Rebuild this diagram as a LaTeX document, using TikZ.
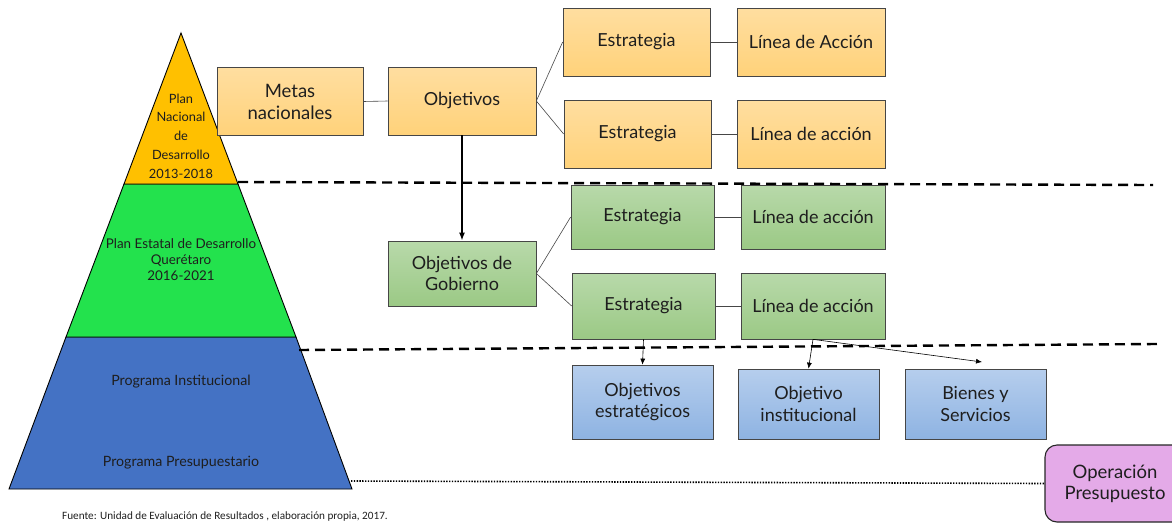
\documentclass[tikz,border=0pt]{standalone}
\usepackage{fontspec}
\setmainfont{Lato}
\newfontfamily\footfont{Carlito}
\usetikzlibrary{arrows.meta,calc}
\definecolor{pyor}{RGB}{255,192,0}
\definecolor{pygr}{RGB}{35,226,77}
\definecolor{pybl}{RGB}{68,114,196}
\definecolor{bord}{RGB}{70,70,70}
\definecolor{txt}{RGB}{30,30,30}
\tikzset{
  box/.style={rectangle, draw=bord, line width=0.7pt, align=center, text=txt,
    font=\fontsize{18}{21.5}\selectfont, inner sep=0pt},
  obox/.style={box, top color={rgb,255:red,255;green,222;blue,160}, bottom color={rgb,255:red,255;green,210;blue,122}},
  gbox/.style={box, top color={rgb,255:red,184;green,217;blue,170}, bottom color={rgb,255:red,155;green,201;blue,133}},
  bbox/.style={box, top color={rgb,255:red,182;green,206;blue,237}, bottom color={rgb,255:red,142;green,179;blue,226}},
  conn/.style={draw=bord, line width=0.6pt},
  thinarrow/.style={draw=black, line width=0.6pt, -{Latex[length=6pt,width=5pt]}},
  bigarrow/.style={draw=black, line width=1.6pt, -{Latex[length=8pt,width=6pt]}},
  sep/.style={draw=black, line width=2.4pt, dash pattern=on 10pt off 6pt},
  dots/.style={draw=black, line width=1.6pt, dash pattern=on 1.4pt off 1.4pt},
  pytext/.style={align=center, text=txt, font=\fontsize{12.8}{18.7}\selectfont, inner sep=0pt},
}
\begin{document}
\begin{tikzpicture}[x=1pt,y=-1pt]
\useasboundingbox (0,0) rectangle (1172,522);
\begin{scope}
\clip (0,0) rectangle (1172,522);
% pyramid
\draw[fill=pybl, line width=0.9pt] (66,337) -- (296,337) -- (352,489) -- (9,489) -- cycle;
\draw[fill=pygr, line width=0.9pt] (124,184) -- (238,184) -- (296,337) -- (66,337) -- cycle;
\draw[fill=pyor, line width=0.9pt] (181,33) -- (238,184) -- (124,184) -- cycle;
\node[pytext] (pnd) at (181,136) {Plan\\Nacional\\de\\Desarrollo\\2013-2018};
\node[pytext, font=\fontsize{13.4}{16}\selectfont] (ped) at (181,259.5) {Plan Estatal de Desarrollo\\Querétaro\\2016-2021};
\node[pytext, font=\fontsize{14.2}{17}\selectfont] (pin) at (181,382) {Programa Institucional};
\node[pytext, font=\fontsize{14.2}{17}\selectfont] (ppr) at (181,463) {Programa Presupuestario};
% separators
\coordinate (s1a) at (238,182); \coordinate (s1b) at (1153,185);
\coordinate (s2a) at (299,350); \coordinate (s2b) at (1157,344);
\draw[sep] (s1a) -- (s1b);
\draw[sep] (s2a) -- (s2b);
% boxes
\node[obox, minimum width=146pt, minimum height=68pt, font=\fontsize{18.5}{22}\selectfont] (metas) at (290,101.5) {Metas\\nacionales};
\node[obox, minimum width=148pt, minimum height=68pt] (obj) at (462,101) {Objetivos};
\node[obox, minimum width=147pt, minimum height=68pt] (e1) at (636.5,42) {Estrategia};
\node[obox, minimum width=148pt, minimum height=68pt] (l1) at (811,42) {Línea de Acción};
\node[obox, minimum width=147pt, minimum height=68pt] (e2) at (637.5,134) {Estrategia};
\node[obox, minimum width=148pt, minimum height=68pt] (l2) at (811,134) {Línea de acción};
\node[gbox, minimum width=148pt, minimum height=65pt] (og) at (462,273.5) {Objetivos de\\Gobierno};
\node[gbox, minimum width=143pt, minimum height=64pt] (ge1) at (642.5,217) {Estrategia};
\node[gbox, minimum width=144pt, minimum height=64pt] (gl1) at (813,217) {Línea de acción};
\node[gbox, minimum width=143pt, minimum height=66pt] (ge2) at (643.5,306) {Estrategia};
\node[gbox, minimum width=144pt, minimum height=66pt] (gl2) at (813,306) {Línea de acción};
\node[bbox, minimum width=141pt, minimum height=74pt] (b1) at (642.5,402) {Objetivos\\estratégicos};
\node[bbox, minimum width=141pt, minimum height=70pt] (b2) at (808.5,404) {Objetivo\\institucional};
\node[bbox, minimum width=141pt, minimum height=70pt] (b3) at (975.5,404) {Bienes y\\Servicios};
\node[box, fill={rgb,255:red,228;green,170;blue,232}, rounded corners=12pt, line width=1.1pt, draw=black!85,
  minimum width=140pt, minimum height=77pt, font=\fontsize{18.5}{21}\selectfont] (op) at (1115,483.5) {Operación\\Presupuesto};
% connectors
\draw[conn] (metas.east) -- (obj.west);
\draw[conn] (obj.east) -- (e1.west);
\draw[conn] (obj.east) -- (e2.west);
\draw[conn] (e1.east) -- (l1.west);
\draw[conn] (e2.east) -- (l2.west);
\draw[conn] (og.east) -- (ge1.west);
\draw[conn] (og.east) -- (ge2.west);
\draw[conn] (ge1.east) -- (gl1.west);
\draw[conn] (ge2.east) -- (gl2.west);
\draw[bigarrow] (obj.south) -- (og.north);
\draw[thinarrow] (ge2.south) -- (b1.north);
\draw[thinarrow] (gl2.south) -- (b2.north);
\coordinate (b3t) at (982,362);
\draw[thinarrow] (gl2.south) -- (b3t);
\coordinate (d1) at (351,481);
\draw[dots] (d1) -- (op.west);
% source
\node[anchor=west, inner sep=0pt, text=txt, font=\footfont\fontsize{11.2}{12}\selectfont] (src) at (62,517) {Fuente: Unidad de Evaluación de Resultados , elaboración propia, 2017.};
\end{scope}
\end{tikzpicture}
\end{document}
